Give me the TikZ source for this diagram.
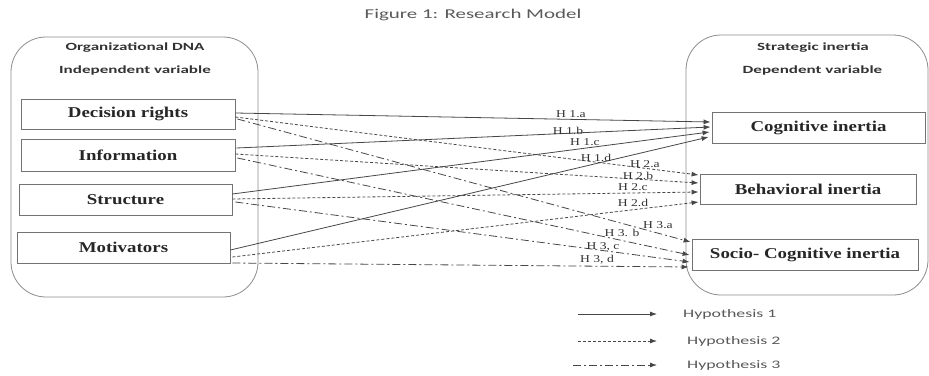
\documentclass[tikz,border=0pt]{standalone}
\usepackage{fontspec}
\setmainfont{Liberation Serif}
\newfontfamily\boxfont[FakeStretch=1.26]{Liberation Serif}
\newfontfamily\wsans[FakeStretch=1.55]{Carlito}
\newfontfamily\hlabfont[FakeStretch=1.3]{Liberation Serif}
\usetikzlibrary{arrows.meta,calc}
\begin{document}
\begin{tikzpicture}[x=1pt,y=-1pt,
  container/.style={draw=black!45, line width=0.8pt, rounded corners=35pt, inner sep=0},
  varbox/.style={draw=black!55, line width=0.8pt, inner sep=0,
     font=\boxfont\bfseries\fontsize{15}{18}\selectfont, text=black!85},
  hdr/.style={font=\wsans\bfseries\fontsize{11}{13}\selectfont, text=black!80, inner sep=0},
  ttl/.style={font=\wsans\fontsize{13.5}{16}\selectfont, text=black!65, inner sep=0},
  hone/.style={draw=black!72, line width=0.8pt, -{Latex[length=7pt,width=5pt]}},
  htwo/.style={hone, dash pattern=on 3pt off 2pt},
  hthree/.style={hone, dash pattern=on 8pt off 3pt on 2pt off 3pt},
  hlab/.style={font=\hlabfont\fontsize{10.5}{12}\selectfont, text=black!80, inner sep=0},
  legtext/.style={font=\wsans\fontsize{11.5}{14}\selectfont, text=black!65, anchor=west, inner sep=0}
]
\useasboundingbox (0,0) rectangle (929,375);

% title
\node[ttl] (title) at (473,15) {Figure 1: Research Model};

% containers
\node[container, minimum width=247pt, minimum height=260pt] (left) at (134.5,167) {};
\node[container, minimum width=242pt, minimum height=260pt] (right) at (807,165) {};

\node[hdr] (orgdna) at (135,48) {Organizational DNA};
\node[hdr] (indep) at (135,71) {Independent variable};
\node[hdr] (strat) at (813,48) {Strategic inertia};
\node[hdr] (dep) at (812.5,71) {Dependent variable};

% independent variables
\node[varbox, minimum width=214pt, minimum height=30pt] (dr) at (128,114) {Decision rights};
\node[varbox, minimum width=214pt, minimum height=32pt] (info) at (128,155) {Information};
\node[varbox, minimum width=213pt, minimum height=31pt] (struc) at (125.5,199.5) {Structure};
\node[varbox, minimum width=213pt, minimum height=31pt] (motiv) at (123.5,247.5) {Motivators};

% dependent variables
\node[varbox, minimum width=213pt, minimum height=31pt] (cog) at (818.5,127.5) {Cognitive inertia};
\node[varbox, minimum width=216pt, minimum height=30pt] (beh) at (808,189) {Behavioral inertia};
\node[varbox, minimum width=226pt, minimum height=31pt] (soc) at (805,254.5) {Socio- Cognitive inertia};

% Hypothesis 1 (solid)
\draw[hone] ($(dr.east)+(0,-1)$) -- ($(cog.west)+(-1,-5.5)$);
\draw[hone] ($(info.east)+(1,-7)$) -- ($(cog.west)+(-1,-0.5)$);
\draw[hone] ($(struc.east)+(0,-5.5)$) -- ($(cog.west)+(-2,4.5)$);
\draw[hone] ($(motiv.east)+(0,2.5)$) -- ($(cog.west)+(-3,9.5)$);

% Hypothesis 2 (dashed)
\draw[htwo] ($(dr.east)+(0,3)$) -- ($(beh.west)+(-1,-14)$);
\draw[htwo] ($(info.east)+(0,-1)$) -- ($(beh.west)+(-1,-6)$);
\draw[htwo] ($(struc.east)+(0,-0.5)$) -- ($(beh.west)+(-1,3)$);
\draw[htwo] ($(motiv.east)+(2,9.5)$) -- ($(beh.west)+(-1,13)$);

% Hypothesis 3 (dash-dot)
\draw[hthree] ($(dr.east)+(2,5)$) -- ($(soc.west)+(-1,-12.5)$);
\draw[hthree] ($(info.east)+(2,3)$) -- ($(soc.west)+(-2,0.5)$);
\draw[hthree] ($(struc.east)+(3,2.5)$) -- ($(soc.west)+(-2,7.5)$);
\draw[hthree] ($(motiv.east)+(2,15.5)$) -- ($(soc.west)+(-3,12.5)$);

% labels
\node[hlab] (l1a) at (571,114) {H 1.a};
\node[hlab] (l1b) at (568,131) {H 1.b};
\node[hlab] (l1c) at (585,142) {H 1.c};
\node[hlab] (l1d) at (596,158) {H 1.d};
\node[hlab] (l2a) at (645,164) {H 2.a};
\node[hlab] (l2b) at (638,176) {H 2.b};
\node[hlab] (l2c) at (633,187) {H 2.c};
\node[hlab] (l2d) at (633,203) {H 2.d};
\node[hlab] (l3a) at (658,225) {H 3.a};
\node[hlab] (l3b) at (622,233) {H 3. b};
\node[hlab] (l3c) at (603,247) {H 3, c};
\node[hlab] (l3d) at (597,260) {H 3, d};

% legend
\coordinate (g1s) at (578,314); \coordinate (g1e) at (657,314);
\coordinate (g2s) at (578,341); \coordinate (g2e) at (657,341);
\coordinate (g3s) at (573,365); \coordinate (g3e) at (657,365);
\draw[hone] (g1s) -- (g1e);
\draw[htwo] (g2s) -- (g2e);
\draw[hthree] (g3s) -- (g3e);
\node[legtext] (t1) at (683,314) {Hypothesis 1};
\node[legtext] (t2) at (687,341) {Hypothesis 2};
\node[legtext] (t3) at (687,365) {Hypothesis 3};
\end{tikzpicture}
\end{document}
